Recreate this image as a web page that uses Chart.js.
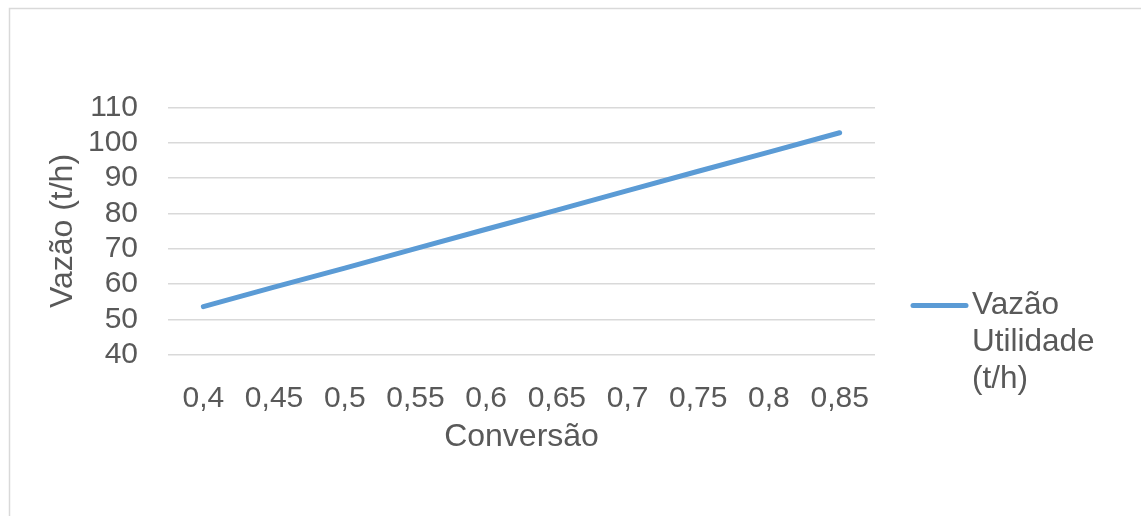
<!DOCTYPE html>
<html>
<head>
<meta charset="utf-8">
<script src="https://cdn.jsdelivr.net/npm/chart.js@4/dist/chart.umd.min.js"></script>
<style>
    html, body { margin: 0; padding: 0; background: #ffffff; }
    canvas { display: block; }
</style>
</head>
<body>
<canvas id="chart" width="1141" height="516"></canvas>
<script>
// Chart data
const conversao = [0.4, 0.45, 0.5, 0.55, 0.6, 0.65, 0.7, 0.75, 0.8, 0.85];
const vazaoUtilidade = [53.6, 59.1, 64.5, 70.0, 75.5, 80.9, 86.4, 91.9, 97.3, 102.8];
const yTicks = [40, 50, 60, 70, 80, 90, 100, 110];
const seriesLabel = 'Vazão Utilidade (t/h)';

const textColor = '#595959';
const gridColor = '#D9D9D9';
const lineColor = '#5B9BD5';
const fontFamily = '"Liberation Sans", Arial, sans-serif';

// Outer frame of the chart
const framePlugin = {
    id: 'frame',
    beforeDraw(chart) {
        const ctx = chart.ctx;
        ctx.save();
        ctx.fillStyle = '#ffffff';
        ctx.fillRect(0, 0, chart.width, chart.height);
        ctx.strokeStyle = gridColor;
        ctx.lineWidth = 1.5;
        ctx.strokeRect(9.5, 8.5, chart.width + 20, chart.height + 20);
        ctx.restore();
    }
};

// Legend on the right, label wrapped on three lines
const sideLegend = {
    id: 'sideLegend',
    afterDraw(chart) {
        const ctx = chart.ctx;
        const ds = chart.data.datasets[0];
        const x0 = chart.chartArea.right + 38;
        const y0 = 305.5;
        ctx.save();
        ctx.strokeStyle = ds.borderColor;
        ctx.lineWidth = 5;
        ctx.lineCap = 'round';
        ctx.beginPath();
        ctx.moveTo(x0, y0);
        ctx.lineTo(x0 + 53, y0);
        ctx.stroke();
        ctx.fillStyle = textColor;
        ctx.font = '31.5px ' + fontFamily;
        ctx.textBaseline = 'middle';
        ctx.textAlign = 'left';
        ds.label.split(' ').forEach(function(line, i) {
            ctx.fillText(line, x0 + 59, y0 + i * 37);
        });
        ctx.restore();
    }
};

const ctx = document.getElementById('chart').getContext('2d');
new Chart(ctx, {
    type: 'line',
    data: {
        labels: conversao,
        datasets: [{
            label: seriesLabel,
            data: vazaoUtilidade,
            borderColor: lineColor,
            backgroundColor: lineColor,
            borderWidth: 5,
            borderCapStyle: 'round',
            borderJoinStyle: 'round',
            pointRadius: 0,
            tension: 0,
            fill: false
        }]
    },
    options: {
        responsive: false,
        animation: false,
        layout: {
            padding: { left: 0, top: 107.3, right: 266, bottom: 0 }
        },
        plugins: {
            legend: { display: false },
            tooltip: { enabled: false }
        },
        scales: {
            x: {
                type: 'category',
                offset: true,
                grid: { display: false, drawTicks: false },
                border: { display: false },
                ticks: {
                    color: textColor,
                    font: { family: fontFamily, size: 30 },
                    padding: 26,
                    maxRotation: 0,
                    autoSkip: false,
                    callback: function(value) {
                        return String(this.getLabelForValue(value)).replace('.', ',');
                    }
                },
                title: {
                    display: true,
                    text: 'Conversão',
                    color: textColor,
                    font: { family: fontFamily, size: 32 },
                    padding: { top: 0, bottom: 60 }
                },
                afterFit: function(scale) {
                    scale.height = 161.3;
                }
            },
            y: {
                min: yTicks[0],
                max: yTicks[yTicks.length - 1],
                afterBuildTicks: function(scale) {
                    scale.ticks = yTicks.map(v => ({ value: v }));
                },
                grid: { color: gridColor, lineWidth: 1.5, drawTicks: false },
                border: { display: false },
                ticks: {
                    color: textColor,
                    font: { family: fontFamily, size: 30 },
                    padding: 30,
                    autoSkip: false
                },
                title: {
                    display: true,
                    text: 'Vazão (t/h)',
                    color: textColor,
                    font: { family: fontFamily, size: 32 },
                    padding: { top: 44, bottom: 0 }
                },
                afterFit: function(scale) {
                    scale.width = 168;
                }
            }
        }
    },
    plugins: [framePlugin, sideLegend]
});
</script>
</body>
</html>
